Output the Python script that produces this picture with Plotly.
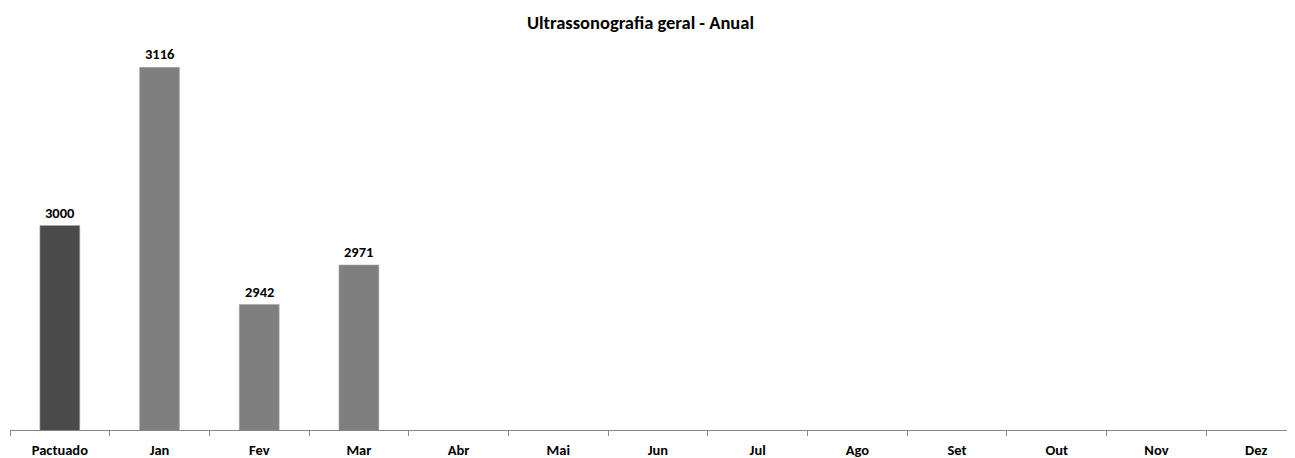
import plotly.graph_objects as go

categories = ["Pactuado", "Jan", "Fev", "Mar", "Abr", "Mai", "Jun", "Jul", "Ago", "Set", "Out", "Nov", "Dez"]
values = [3000, 3116, 2942, 2971, None, None, None, None, None, None, None, None, None]
bar_colors = ["#4a4a4a", "#7f7f7f", "#7f7f7f", "#7f7f7f"] + ["#7f7f7f"] * 9
title_text = "Ultrassonografia geral - Anual"

FONT = "Carlito, Calibri, Lato, sans-serif"

fig = go.Figure()
fig.add_trace(go.Bar(
    x=categories, y=values, width=0.4,
    marker=dict(color=bar_colors, line=dict(color="#a6a6a6", width=0.6)),
    hoverinfo="x+y",
))

annotations = []
for c, v in zip(categories, values):
    if v is not None:
        annotations.append(dict(x=c, y=v, text=f"<b>{v}</b>", showarrow=False,
                                yanchor="bottom", yshift=2, xref="x", yref="y",
                                font=dict(family=FONT, size=14.5, color="#000000")))
annotations.append(dict(x=0.4903, y=0.996, xref="paper", yref="paper", xanchor="center", yanchor="middle",
                        text=f"<b>{title_text}</b>", showarrow=False,
                        font=dict(family=FONT, size=18.5, color="#000000")))

fig.update_layout(
    width=1287, height=450,
    margin=dict(l=2, r=0, t=13, b=28),
    paper_bgcolor="white", plot_bgcolor="white",
    showlegend=False,
    annotations=annotations,
    bargap=0.6,
)
fig.update_xaxes(
    type="category", categoryorder="array", categoryarray=categories,
    range=[-0.5, 12.39],
    showline=True, linecolor="#868686", linewidth=1,
    ticks="outside", tickson="boundaries", ticklen=5, tickcolor="#868686",
    tickfont=dict(family=FONT, size=14.5, color="#000000"),
    showgrid=False, zeroline=False,
    ticklabelstandoff=7,
)
fig.update_xaxes(tickvals=categories, ticktext=[f"<b>{c}</b>" for c in categories])
fig.update_yaxes(range=[2850, 3150], visible=False, showgrid=False, zeroline=False)

fig.write_html("out.html")
